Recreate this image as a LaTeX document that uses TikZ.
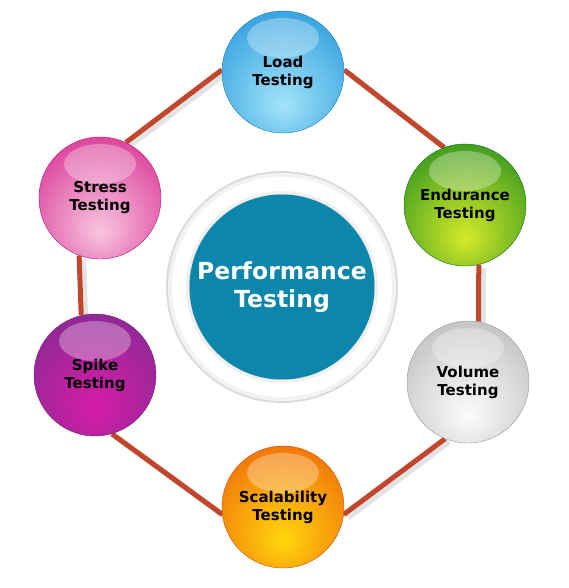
\documentclass[tikz,border=0pt]{standalone}
\usepackage{fontspec}
\setmainfont{DejaVu Sans}
\usepackage{tikz}
\pgfdeclarelayer{back}
\pgfsetlayers{back,main}
\definecolor{wirered}{HTML}{C1462B}
\definecolor{hubteal}{HTML}{0C86AA}
\definecolor{loaddark}{HTML}{1790D8}
\definecolor{loadlight}{HTML}{A4E4FA}
\definecolor{endurdark}{HTML}{14861C}
\definecolor{endurlight}{HTML}{D6EA2A}
\definecolor{voldark}{HTML}{B4B4B4}
\definecolor{vollight}{HTML}{FCFCFC}
\definecolor{scaledark}{HTML}{EE5A0A}
\definecolor{scalelight}{HTML}{FFD60C}
\definecolor{spikedark}{HTML}{7B2D91}
\definecolor{spikelight}{HTML}{D61CA8}
\definecolor{stressdark}{HTML}{D41C88}
\definecolor{stresslight}{HTML}{F8C6E0}
\colorlet{ballin}{white}
\colorlet{ballout}{gray}
\pgfdeclareradialshading[ballin,ballout]{glossy}{\pgfpoint{0bp}{-14bp}}{%
  color(0bp)=(ballin);color(22bp)=(ballin!50!ballout);color(42bp)=(ballout);color(70bp)=(ballout!85!black)}

\begin{document}
\begin{tikzpicture}[x=1pt,y=-1pt]
                \tikzstyle{ball}=[circle,draw=ballout!85!black,shading=glossy,inner sep=0pt,minimum size=122pt]
                \tikzstyle{balltext}=[align=center,font=\bfseries\fontsize{15}{18}\selectfont]
                \tikzstyle{wire}=[line width=5pt,wirered]
                \tikzstyle{wireshadow}=[line width=6pt,gray!22,transform canvas={xshift=4pt,yshift=-3pt}]
                \newcommand\ball[6]{\colorlet{ballin}{#5}\colorlet{ballout}{#4}%
                \node[ball] at (#1,#2) (#3) {};%
                \fill[white,opacity=.3] (#1,#2-34) ellipse (36 and 20);%
                \node[balltext] at (#1,#2) (#3t) {#6};}
                \useasboundingbox (0,0) rectangle (568,588);
                \fill[gray!28] (282,287) circle (116);
                \fill[gray!10] (282,287) circle (114);
                \fill[white] (282,287) circle (110);
                \fill[gray!12] (282,287) circle (96);
                \fill[gray!30] (282,287) circle (93);
                \node[circle,fill=hubteal,minimum size=182pt,text=white,align=center,
                      font=\bfseries\fontsize{23.5}{28}\selectfont] at (282,287) (perf) {Performance\\Testing};
                \ball{283}{72}{load}{loaddark}{loadlight}{Load\\Testing};
                \ball{465}{205}{endur}{endurdark}{endurlight}{Endurance\\Testing};
                \ball{468}{382}{volume}{voldark}{vollight}{Volume\\Testing};
                \ball{283}{507}{scale}{scaledark}{scalelight}{Scalability\\Testing};
                \ball{95}{375}{spike}{spikedark}{spikelight}{Spike\\Testing};
                \ball{100}{198}{stress}{stressdark}{stresslight}{Stress\\Testing};
                \begin{pgfonlayer}{back}
                \draw[wireshadow] (stress.65) -- (load.178) (load.2) -- (endur.110) (endur.283) -- (volume.80)
                      (volume.248) -- (scale.353) (scale.187) -- (spike.286) (spike.103) -- (stress.250);
                \draw[wire] (stress.65) -- (load.178) (load.2) -- (endur.110) (endur.283) -- (volume.80)
                      (volume.248) -- (scale.353) (scale.187) -- (spike.286) (spike.103) -- (stress.250);
                \end{pgfonlayer}
            \end{tikzpicture}
\end{document}
